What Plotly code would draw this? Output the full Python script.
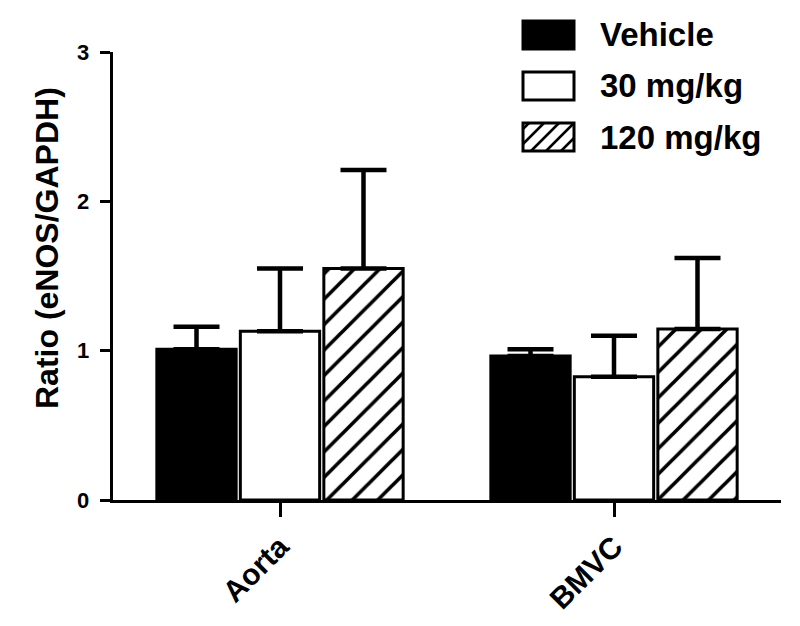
import plotly.graph_objects as go

# values
tissues = ["Aorta", "BMVC"]
groups = ["Vehicle", "30 mg/kg", "120 mg/kg"]
vehicle = [1.01, 0.965]
dose_30 = [1.13, 0.825]
dose_120 = [1.55, 1.145]
vehicle_err = [0.15, 0.045]
dose_30_err = [0.42, 0.275]
dose_120_err = [0.66, 0.475]
y_ticks = [0, 1, 2, 3]

FONT = "Liberation Sans, Arial, sans-serif"

# page offset of the plotly div (body margin)
OFF = 8
W, H = 800, 626
L, T = 113 - OFF, 52 - OFF
PW, PH = 668, 448
R, B = W - L - PW, H - T - PH


def px_x(x):
    # x in screenshot pixels -> paper
    return (x - OFF - L) / PW


def px_y(y):
    return (T + PH - (y - OFF)) / PH


styles = [
    dict(color="black", line=dict(color="black", width=3)),
    dict(color="white", line=dict(color="black", width=3)),
    dict(color="white", line=dict(color="black", width=3),
         pattern=dict(shape="/", fgcolor="black", fgopacity=1, bgcolor="white",
                      size=18, solidity=0.2)),
]

fig = go.Figure()
for name, vals, errs, marker in zip(
    groups, [vehicle, dose_30, dose_120], [vehicle_err, dose_30_err, dose_120_err], styles
):
    fig.add_trace(go.Bar(
        x=tissues, y=vals, name=name, marker=marker, showlegend=False,
        error_y=dict(type="data", array=errs, symmetric=False, arrayminus=[0] * len(errs),
                     color="black", thickness=4.5, width=23),
    ))

# hand-drawn legend with large swatches
shapes = []
annotations = []
rows = [35, 86, 137]
for i, (name, cy) in enumerate(zip(groups, rows)):
    xa, xb, ya, yb = 523, 574, cy - 14, cy + 14
    fill = "black" if i == 0 else "white"
    shapes.append(dict(type="rect", xref="paper", yref="paper",
                       x0=px_x(xa), x1=px_x(xb), y0=px_y(yb), y1=px_y(ya),
                       fillcolor=fill, line=dict(color="black", width=3), layer="above"))
    if i == 2:
        c = xa + ya + 6
        while c < xb + yb:
            sx0 = max(xa, c - yb)
            sx1 = min(xb, c - ya)
            if sx1 - sx0 > 2:
                shapes.append(dict(type="line", xref="paper", yref="paper",
                                   x0=px_x(sx0), y0=px_y(c - sx0), x1=px_x(sx1), y1=px_y(c - sx1),
                                   line=dict(color="black", width=2.5)))
            c += 15
    annotations.append(dict(x=px_x(598), y=px_y(cy), xref="paper", yref="paper",
                            text=name, showarrow=False, xanchor="left", yanchor="middle",
                            font=dict(family=FONT, size=33, color="black", weight="bold")))

annotations.append(dict(x=px_x(47), y=px_y(248), xref="paper", yref="paper",
                        text="Ratio (eNOS/GAPDH)", textangle=-90, showarrow=False,
                        xanchor="center", yanchor="middle",
                        font=dict(family=FONT, size=32, color="black", weight="bold")))

# y tick labels as annotations tied to the y scale
for v in y_ticks:
    annotations.append(dict(x=px_x(91), y=v, xref="paper", yref="y",
                            text=str(v), showarrow=False, xanchor="right", yanchor="middle",
                            font=dict(family=FONT, size=22, color="black", weight="bold")))

fig.update_layout(
    width=W, height=H,
    margin=dict(l=L, r=R, t=T, b=B),
    paper_bgcolor="white", plot_bgcolor="white",
    barmode="group", bargap=0.25, bargroupgap=0.05,
    shapes=shapes, annotations=annotations,
    showlegend=False,
)
fig.update_xaxes(
    range=[-0.5, 1.5], showline=True, linecolor="black", linewidth=3,
    ticks="outside", ticklen=14, tickwidth=3, tickcolor="black",
    tickangle=-45, showgrid=False, zeroline=False,
    tickfont=dict(family=FONT, size=30, color="black", weight="bold"),
)
fig.update_yaxes(
    range=[0, 3], tickmode="array", tickvals=y_ticks, showticklabels=False,
    showline=True, linecolor="black", linewidth=3,
    ticks="outside", ticklen=10, tickwidth=3, tickcolor="black",
    showgrid=False, zeroline=False,
)

fig.write_html("out.html")
